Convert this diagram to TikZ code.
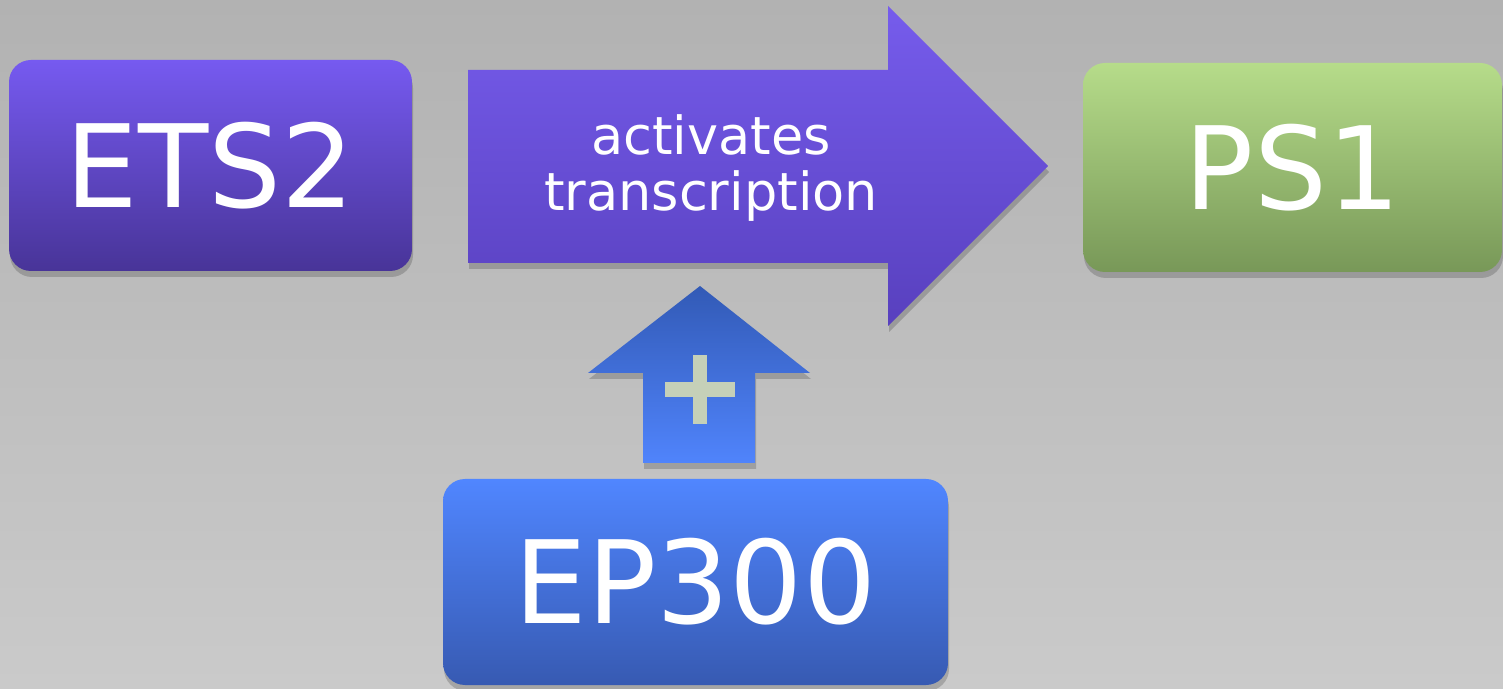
\documentclass[tikz,border=0pt]{standalone}
\usepackage{fontspec}
\setmainfont{DejaVu Sans}
\usetikzlibrary{shadows}
\definecolor{bgtop}{RGB}{178,178,178}
\definecolor{bgbot}{RGB}{202,202,202}
\definecolor{purtop}{RGB}{118,90,240}
\definecolor{purbot}{RGB}{72,52,152}
\definecolor{arrtop}{RGB}{118,92,236}
\definecolor{arrbot}{RGB}{88,64,190}
\definecolor{grtop}{RGB}{182,220,138}
\definecolor{grbot}{RGB}{120,152,88}
\definecolor{bltop}{RGB}{80,134,255}
\definecolor{blbot}{RGB}{55,90,178}
\definecolor{uptop}{RGB}{50,90,182}
\definecolor{upbot}{RGB}{80,132,252}
\definecolor{plusc}{RGB}{197,208,184}
\tikzset{
  shd/.style={drop shadow={shadow xshift=1pt,shadow yshift=-6pt,opacity=0.18,fill=black}},
  boxnode/.style={rounded corners=22pt,inner sep=0pt,text=white,
    font=\fontsize{115}{115}\selectfont,shd},
  smalltext/.style={text=white,align=center,font=\fontsize{52.5}{56}\selectfont}
}
\begin{document}
\begin{tikzpicture}[x=1pt,y=1pt]
\useasboundingbox (0,0) rectangle (1503,688);
\shade[top color=bgtop,bottom color=bgbot] (0,0) rectangle (1503,688);
% boxes
\node[boxnode,top color=purtop,bottom color=purbot,minimum width=403pt,minimum height=211pt]
  (ets2) at (210.5,522.5) {ETS2};
\node[boxnode,top color=grtop,bottom color=grbot,minimum width=419pt,minimum height=209pt]
  (ps1) at (1292.5,520.5) {PS1};
\node[boxnode,top color=bltop,bottom color=blbot,minimum width=505pt,minimum height=206pt]
  (ep300) at (695.5,106) {EP300};
% big arrow
\coordinate (bigtail) at (468,522);
\coordinate (bigtip) at (1048,522);
\path[shd,top color=arrtop,bottom color=arrbot]
  (bigtail |- 0,618) -- (888,618) -- (888,682) -- (bigtip) -- (888,362) -- (888,425)
  -- (bigtail |- 0,425) -- cycle;
\node[smalltext] (act) at (711,520) {activates\\transcription};
% up arrow
\coordinate (uptip) at (700,402);
\coordinate (upbase) at (700,225);
\path[shd,top color=uptop,bottom color=upbot]
  (643,225) -- (643,315) -- (588,315) -- (uptip) -- (810,315) -- (755,315) -- (755,225) -- cycle;
% plus sign
\fill[plusc] (665,291) rectangle (735,306);
\fill[plusc] (693,264) rectangle (707,333);
\node[inner sep=0pt] (plus) at (700,298.5) {};
\end{tikzpicture}
\end{document}
